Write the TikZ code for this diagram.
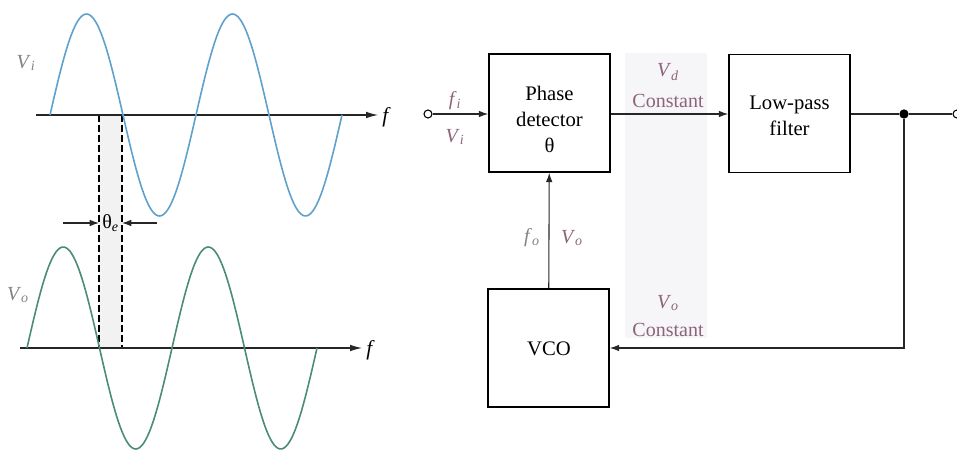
\documentclass[tikz,border=0pt]{standalone}
\usepackage{fontspec}
\setmainfont{LiberationSerif}[Extension=.ttf, UprightFont=*-Regular, ItalicFont=*-Italic, BoldFont=*-Bold, BoldItalicFont=*-BoldItalic]
\newfontfamily\tms{LiberationSerif}[Extension=.ttf, UprightFont=*-Regular, ItalicFont=*-Italic, BoldFont=*-Bold, BoldItalicFont=*-BoldItalic]
\usetikzlibrary{arrows.meta}
\definecolor{waveA}{RGB}{95,160,205}
\definecolor{waveB}{RGB}{75,140,120}
\definecolor{lbl}{RGB}{140,100,120}
\definecolor{lblg}{RGB}{130,130,135}
\definecolor{band}{RGB}{246,246,249}
\begin{document}
\begin{tikzpicture}[x=0.75pt,y=-0.75pt,
  blk/.style={draw, line width=1.3pt, minimum width=90.75pt, minimum height=88.5pt, inner sep=0pt},
  btxt/.style={align=center, inner sep=0pt, font=\tms\fontsize{15.5}{19.5}\selectfont},
  conn/.style={line width=0.8pt, draw=black!85},
  tip/.style={-{Latex[length=7pt,width=5pt]}},
  axtip/.style={-{Latex[length=9pt,width=5pt]}},
  lab/.style={text=lbl, font=\tms\fontsize{15}{18}\selectfont, inner sep=0pt},
  glab/.style={text=lblg, font=\tms\fontsize{15}{18}\selectfont, inner sep=0pt},
  port/.style={circle, draw, fill=white, line width=0.8pt, minimum size=6pt, inner sep=0pt},
  wave/.style={line width=1.2pt},
  dsh/.style={line width=0.8pt, dash pattern=on 5pt off 2.5pt}
]
\useasboundingbox (0,0) rectangle (957,452);
% ---------- left: waveforms ----------
\fill[gray!10] (99,115) rectangle (122,348);
\draw[dsh] (99,115) coordinate (d1) -- (99,348) coordinate (d2);
\draw[dsh] (122,115) coordinate (d3) -- (122,348) coordinate (d4);
\draw[conn, axtip] (36,115) coordinate (a1) -- (378,115) coordinate (a2);
\node[font=\tms\fontsize{16}{18}\selectfont\itshape, anchor=west, inner sep=0pt] (f1) at (382,117) {f};
\draw[conn, axtip] (20,348) coordinate (b1) -- (362,348) coordinate (b2);
\node[font=\tms\fontsize{16}{18}\selectfont\itshape, anchor=west, inner sep=0pt] (f2) at (366,350) {f};
\draw[wave, waveA] plot[domain=50:342, samples=150] (\x, {115-101*sin(2.46575*(\x-50))});
\draw[wave, waveB] plot[domain=27:317, samples=150] (\x, {348-101*sin(2.48276*(\x-27))});
\node[glab] (vi) at (26,63) {\textit{V}\textsubscript{\textit{i}}};
\node[glab] (vo) at (18,295) {\textit{V}\textsubscript{\textit{o}}};
\node[font=\tms\fontsize{15}{18}\selectfont, inner sep=0pt] (th) at (110.5,223) {θ\textsubscript{\textit{e}}};
\draw[conn, tip] (63,223) coordinate (t1) -- (99,223) coordinate (t2);
\draw[conn, tip] (157,223) coordinate (t3) -- (122,223) coordinate (t4);
% ---------- right: block diagram ----------
\fill[band] (625,53) rectangle (707,338);
\node[blk] (pd) at (549.5,113) {};
\node[btxt] (pdt) at (549.5,119) {Phase\\detector\\θ};
\node[blk] (lpf) at (789.5,113.5) {};
\node[btxt] (lpft) at (789.5,116) {Low-pass\\filter};
\node[blk] (vco) at (548.5,348) {};
\node[btxt] (vcot) at (549,349) {VCO};
\node[port] (in) at (428,114) {};
\node[port] (out) at (957,114) {};
\node[circle, fill, inner sep=0pt, minimum size=7pt] (dot) at (904,114) {};
\draw[conn, tip] (in) -- (in -| pd.west);
\draw[conn, tip] (pd.east |- dot) -- (lpf.west |- dot);
\draw[conn] (lpf.east |- dot) -- (dot) -- (out);
\draw[conn, tip] (dot) |- (vco);
\draw[conn, tip] (vco) -- (pd);
\node[lab] (fi) at (455,101) {\textit{f}\textsubscript{\textit{i}}};
\node[lab] (vin) at (455,137) {\textit{V}\textsubscript{\textit{i}}};
\node[lab] (vd) at (668,72) {\textit{V}\textsubscript{\textit{d}}};
\node[lab] (c1) at (668,101) {Constant};
\node[lab] (ve) at (668,303) {\textit{V}\textsubscript{\textit{o}}};
\node[lab] (c2) at (668,330) {Constant};
\node[glab] (fo) at (532,238) {\textit{f}\textsubscript{\textit{o}}};
\node[lab] (vof) at (572,238) {\textit{V}\textsubscript{\textit{o}}};
\end{tikzpicture}
\end{document}
